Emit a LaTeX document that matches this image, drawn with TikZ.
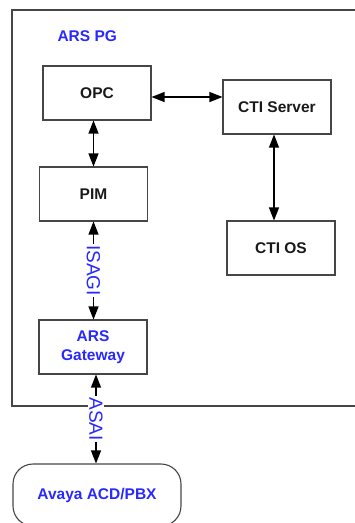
\documentclass[tikz,border=0pt]{standalone}
\usepackage{fontspec}
\setmainfont{Liberation Sans}
\usetikzlibrary{arrows.meta}
\definecolor{lblue}{RGB}{40,40,255}
\definecolor{edge}{RGB}{70,70,70}
\tikzset{
  box/.style={draw=edge, line width=1.1pt, minimum width=108pt, minimum height=54pt, inner sep=0pt, align=center, text=black!90, font=\fontsize{15.5}{19}\selectfont\bfseries},
  arr/.style={line width=1.2pt, {Triangle[length=13pt,width=10pt]}-{Triangle[length=13pt,width=10pt]}},
  lbl/.style={rotate=-90, fill=white, inner sep=1pt, text=lblue, font=\fontsize{19}{19}\selectfont}
}
\begin{document}
\begin{tikzpicture}[x=1pt,y=-1pt]
\useasboundingbox (0,0) rectangle (355,523);
\clip (0,0) rectangle (355,523);
\draw[draw=edge, line width=1.3pt] (12,10) rectangle (380,406);
\node[text=lblue, font=\fontsize{15.5}{19}\selectfont\bfseries, anchor=west] (pg) at (54,36) {ARS PG};
\node[box] (opc) at (97,93) {OPC};
\node[box] (cti) at (277,107) {CTI Server};
\node[box] (pim) at (93.5,194) {PIM};
\node[box] (ctios) at (281,248) {CTI OS};
\node[box, text=lblue] (gw) at (93,347) {ARS\\Gateway};
\node[box, minimum width=168pt, minimum height=62pt, rounded corners=20pt, text=lblue] (av) at (97,495) {Avaya ACD/PBX};
\draw[arr] ([yshift=-4pt]opc.east) -- ([yshift=-4pt]opc.east -| cti.west);
\draw[arr] (pim.north) -- (pim.north |- opc.south);
\draw[arr] ([xshift=-3pt]cti.south) -- ([xshift=-3pt]cti.south |- ctios.north);
\draw[arr] (pim.south) -- node[lbl] {ISAGI} (pim.south |- gw.north);
\draw[arr] ([xshift=3pt]gw.south) -- node[lbl] {ASAI} ([xshift=3pt]gw.south |- av.north);
\end{tikzpicture}
\end{document}
